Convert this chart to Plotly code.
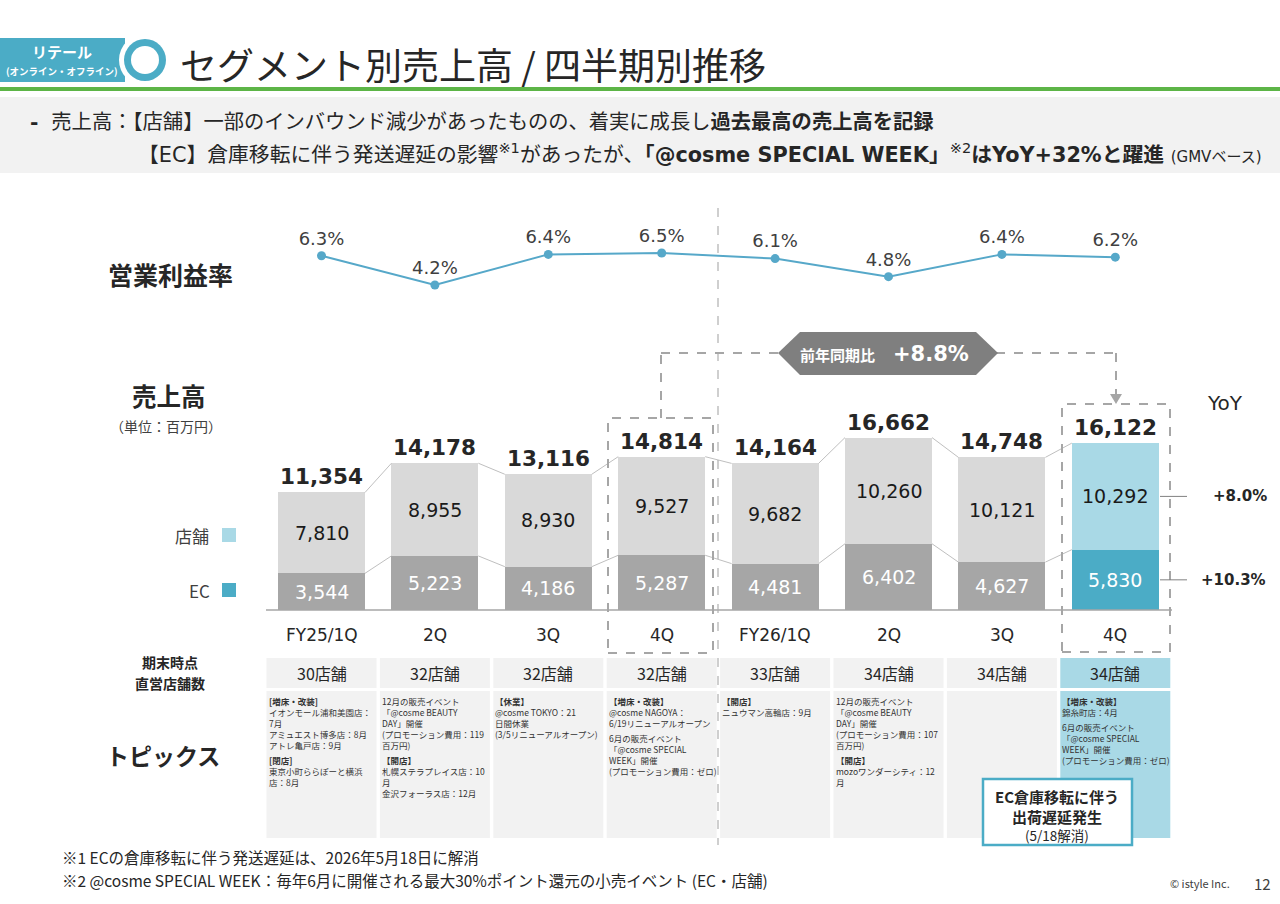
import plotly.graph_objects as go

# data
quarters = ["FY25/1Q", "2Q", "3Q", "4Q", "FY26/1Q", "2Q", "3Q", "4Q"]
ec_sales = [3544, 5223, 4186, 5287, 4481, 6402, 4627, 5830]
store_sales = [7810, 8955, 8930, 9527, 9682, 10260, 10121, 10292]
total_sales = [11354, 14178, 13116, 14814, 14164, 16662, 14748, 16122]
op_margin = [6.3, 4.2, 6.4, 6.5, 6.1, 4.8, 6.4, 6.2]
store_count = [30, 32, 32, 32, 33, 34, 34, 34]
yoy_store = "+8.0%"
yoy_ec = "+10.3%"
yoy_total = "+8.8%"

topics = [
    [["<b>[増床・改装]</b>", "イオンモール浦和美園店：", "7月", "アミュエスト博多店：8月", "アトレ亀戸店：9月"],
     ["<b>[閉店]</b>", "東京小町ららぽーと横浜", "店：8月"]],
    [["12月の販売イベント", "「@cosme BEAUTY", "DAY」開催", "(プロモーション費用：119", "百万円)"],
     ["<b>【開店】</b>", "札幌ステラプレイス店：10", "月", "金沢フォーラス店：12月"]],
    [["<b>【休業】</b>", "@cosme TOKYO：21", "日間休業", "(3/5リニューアルオープン)"]],
    [["<b>【増床・改装】</b>", "@cosme NAGOYA：", "6/19リニューアルオープン"],
     ["6月の販売イベント", "「@cosme SPECIAL", "WEEK」開催", "(プロモーション費用：ゼロ)"]],
    [["<b>【開店】</b>", "ニュウマン高輪店：9月"]],
    [["12月の販売イベント", "「@cosme BEAUTY", "DAY」開催", "(プロモーション費用：107", "百万円)"],
     ["<b>【開店】</b>", "mozoワンダーシティ：12", "月"]],
    [],
    [["<b>【増床・改装】</b>", "錦糸町店：4月"],
     ["6月の販売イベント", "「@cosme SPECIAL", "WEEK」開催", "(プロモーション費用：ゼロ)"]],
]

W, H = 1280, 904
X0, DX = 321.5, 113.4          # pixel x of first bar centre, bar spacing
BASE, SCALE = 610, 0.01035     # baseline pixel y, px per 百万円
M_REF, M_PX, M_SCALE = 6.5, 253, 13.9
BW = 0.767

JP = "Noto Sans CJK JP"
VD = "DejaVu Sans, Noto Sans CJK JP"
DARK = "#262626"
TEAL = "#4bacc6"
LBLUE = "#a9d9e6"
DASH = "#a6a6a6"


def px(x):
    return x / W


def py(y):
    return 1 - y / H


n = len(quarters)
xs = list(range(n))
ec_colors = ["#a6a6a6"] * (n - 1) + [TEAL]
st_colors = ["#d9d9d9"] * (n - 1) + [LBLUE]

fig = go.Figure()

fig.add_trace(go.Bar(x=xs, y=ec_sales, width=BW, marker=dict(color=ec_colors, line_width=0),
                     hoverinfo="skip", showlegend=False))
fig.add_trace(go.Bar(x=xs, y=store_sales, width=BW, marker=dict(color=st_colors, line_width=0),
                     hoverinfo="skip", showlegend=False))

# connector lines between bars
for series in (total_sales, ec_sales):
    cx, cy = [], []
    for i in range(n - 1):
        cx += [i + BW / 2, i + 1 - BW / 2, None]
        cy += [series[i], series[i + 1], None]
    fig.add_trace(go.Scatter(x=cx, y=cy, mode="lines", line=dict(color="#bfbfbf", width=1),
                             hoverinfo="skip", showlegend=False))

# operating margin line
fig.add_trace(go.Scatter(x=xs, y=op_margin, yaxis="y2", mode="lines+markers+text",
                         line=dict(color="#56a8c9", width=2),
                         marker=dict(size=9, color="#56a8c9"),
                         text=[f"{v:.1f}%" for v in op_margin], textposition="top center",
                         textfont=dict(family=VD, size=18, color="#404040"),
                         hoverinfo="skip", showlegend=False))

ann = []


def note(x, y, text, size, color=DARK, family=JP, xanchor="center", yanchor="middle",
         xref="paper", yref="paper", **kw):
    ann.append(dict(x=x, y=y, text=text, xref=xref, yref=yref, showarrow=False,
                    xanchor=xanchor, yanchor=yanchor,
                    font=dict(size=size, color=color, family=family), **kw))


# bar labels
for i in xs:
    note(i, total_sales[i], f"<b>{total_sales[i]:,}</b>", 21.5, xref="x", yref="y",
         family=VD, yanchor="bottom", yshift=1)
    note(i, ec_sales[i] / 2, f"{ec_sales[i]:,}", 19, color="white", xref="x", yref="y", family=VD)
    note(i, ec_sales[i] + store_sales[i] / 2, f"{store_sales[i]:,}", 19, color="#1a1a1a",
         xref="x", yref="y", family=VD)
    note(i, py(635), quarters[i], 17, color="#262626", xref="x", family=VD)
    note(i, py(673), f"{store_count[i]}店舗", 16, xref="x")

# YoY
note(px(1225), py(403), "YoY", 20, family=VD)
note(px(1240), ec_sales[-1] + store_sales[-1] / 2, f"<b>{yoy_store}</b>", 15, family=VD, yref="y")
note(px(1233), ec_sales[-1] / 2, f"<b>{yoy_ec}</b>", 15, family=VD, yref="y")

# topics text, one block per group
for i, groups in enumerate(topics):
    yy = 694
    for g in groups:
        note(i, py(yy), "<br>".join(g), 8.5, color="#333333", xref="x", xanchor="left",
             yanchor="top", xshift=-54, align="left", borderpad=0)
        yy += 11.05 * len(g) + 4

shapes = []


def rect(x0, y0, x1, y1, color, xref="paper", line=None):
    shapes.append(dict(type="rect", xref=xref, yref="paper", x0=x0, x1=x1, y0=py(y0), y1=py(y1),
                       fillcolor=color, line=line or dict(width=0), layer="below"))


def seg(x0, y0, x1, y1, color=DASH, width=2, dash="dash", xref="paper", yref="paper"):
    shapes.append(dict(type="line", xref=xref, yref=yref, x0=x0, x1=x1, y0=y0, y1=y1,
                       line=dict(color=color, width=width, dash=dash)))


# header
rect(px(0), 38, px(125), 82, TEAL)
for r, c in ((26, "white"), (21, TEAL), (14, "white")):
    shapes.append(dict(type="circle", xref="paper", yref="paper", x0=px(145 - r), x1=px(145 + r),
                       y0=py(60 + r), y1=py(60 - r), fillcolor=c, line=dict(width=0)))
seg(0, py(89), 1, py(89), color="#5db547", width=4, dash="solid")
rect(0, 97, 1, 173, "#f2f2f2")
note(px(62), py(52), "<b>リテール</b>", 15, color="white")
note(px(62), py(71), "<b>(オンライン・オフライン)</b>", 9.5, color="white")
note(px(178), py(64), "セグメント別売上高 / 四半期別推移", 37, xanchor="left")
note(px(28), py(122), "<b>-</b>  売上高：【店舗】一部のインバウンド減少があったものの、着実に成長し<b>過去最高の売上高を記録</b>",
     20.3, xanchor="left", family=VD)
note(px(136), py(153),
     "【EC】倉庫移転に伴う発送遅延の影響<sup>※1</sup>があったが、<b>「@cosme SPECIAL WEEK」</b>"
     "<sup>※2</sup><b>はYoY+32%と躍進</b> <span style='font-size:15px'>(GMVベース)</span>",
     20.8, xanchor="left", family=VD)

# left labels
note(px(170), py(274), "<b>営業利益率</b>", 25)
note(px(169), py(395), "<b>売上高</b>", 24.5)
note(px(166), py(426), "（単位：百万円）", 14, color="#404040")
note(px(211), py(535), "店舗", 17, xanchor="right", color="#404040")
note(px(212), py(590), "EC", 17, xanchor="right", color="#404040")
rect(px(222), 528, px(236), 542, LBLUE)
rect(px(222), 583, px(236), 597, TEAL)
note(px(170), py(662), "<b>期末時点</b>", 14)
note(px(170), py(683), "<b>直営店舗数</b>", 14)
note(px(163), py(755), "<b>トピックス</b>", 23)

# table cells
for i in xs:
    c = LBLUE if i == n - 1 else "#f2f2f2"
    rect(i - 0.485, 658, i + 0.485, 688, c, xref="x")
    rect(i - 0.485, 691, i + 0.485, 838, c, xref="x")

# baseline
seg(px(266), py(610), px(1172), py(610), color="#a6a6a6", width=1.5, dash="solid")

# divider
seg(px(718), py(208), px(718), py(845), color="#b0b0b0", width=1.2, dash="dash")

# dashed boxes
for x0, x1, y0, y1 in ((608, 713, 418, 653), (1062, 1170, 404, 652)):
    shapes.append(dict(type="rect", xref="paper", yref="paper", x0=px(x0), x1=px(x1),
                       y0=py(y1), y1=py(y0), line=dict(color=DASH, width=2, dash="dash")))

# yoy connector
seg(px(661), py(418), px(661), py(353))
seg(px(661), py(353), px(780), py(353))
seg(px(996), py(353), px(1116), py(353))
seg(px(1116), py(353), px(1116), py(396))
shapes.append(dict(type="path", xref="paper", yref="paper",
                   path=f"M {px(1110)},{py(394)} L {px(1122)},{py(394)} L {px(1116)},{py(404)} Z",
                   fillcolor=DASH, line=dict(width=0)))
shapes.append(dict(type="path", xref="paper", yref="paper",
                   path=(f"M {px(778)},{py(353)} L {px(800)},{py(332)} L {px(976)},{py(332)} "
                         f"L {px(998)},{py(353)} L {px(976)},{py(375)} L {px(800)},{py(375)} Z"),
                   fillcolor="#7f7f7f", line=dict(width=0)))
note(px(837), py(354), "<b>前年同期比</b>", 15, color="white")
note(px(931), py(354), f"<b>{yoy_total}</b>", 21, color="white", family=VD)

# yoy ticks
for v in (ec_sales[-1] / 2, ec_sales[-1] + store_sales[-1] / 2):
    seg(px(1160), v, px(1187), v, color="#808080", width=1, dash="solid", yref="y")

# EC callout
shapes.append(dict(type="rect", xref="paper", yref="paper", x0=px(983), x1=px(1132),
                   y0=py(845), y1=py(779), fillcolor="white", line=dict(color=TEAL, width=2.5)))
note(px(1057), py(796), "<b>EC倉庫移転に伴う</b>", 15)
note(px(1057), py(816), "<b>出荷遅延発生</b>", 15)
note(px(1057), py(835), "(5/18解消)", 13.5)

# footer
note(px(60), py(857), "※1 ECの倉庫移転に伴う発送遅延は、2026年5月18日に解消", 15.5, xanchor="left")
note(px(60), py(880), "※2 @cosme SPECIAL WEEK：毎年6月に開催される最大30%ポイント還元の小売イベント (EC・店舗)",
     15.5, xanchor="left")
note(px(1232), py(883), "© istyle Inc.", 11, xanchor="right", color="#404040")
note(px(1262), py(883), "12", 15, color="#404040")

fig.update_layout(
    width=W, height=H, margin=dict(l=0, r=0, t=0, b=0),
    paper_bgcolor="white", plot_bgcolor="white",
    barmode="stack", bargap=0,
    xaxis=dict(range=[-X0 / DX, (W - X0) / DX], visible=False, fixedrange=True),
    yaxis=dict(range=[-(H - BASE) / SCALE, BASE / SCALE], visible=False, fixedrange=True),
    yaxis2=dict(range=[M_REF - (H - M_PX) / M_SCALE, M_REF + M_PX / M_SCALE], overlaying="y",
                visible=False, fixedrange=True),
    annotations=ann, shapes=shapes,
)

fig.write_html("out.html", config={"displayModeBar": False},
               post_script="document.body.style.margin='0';")
